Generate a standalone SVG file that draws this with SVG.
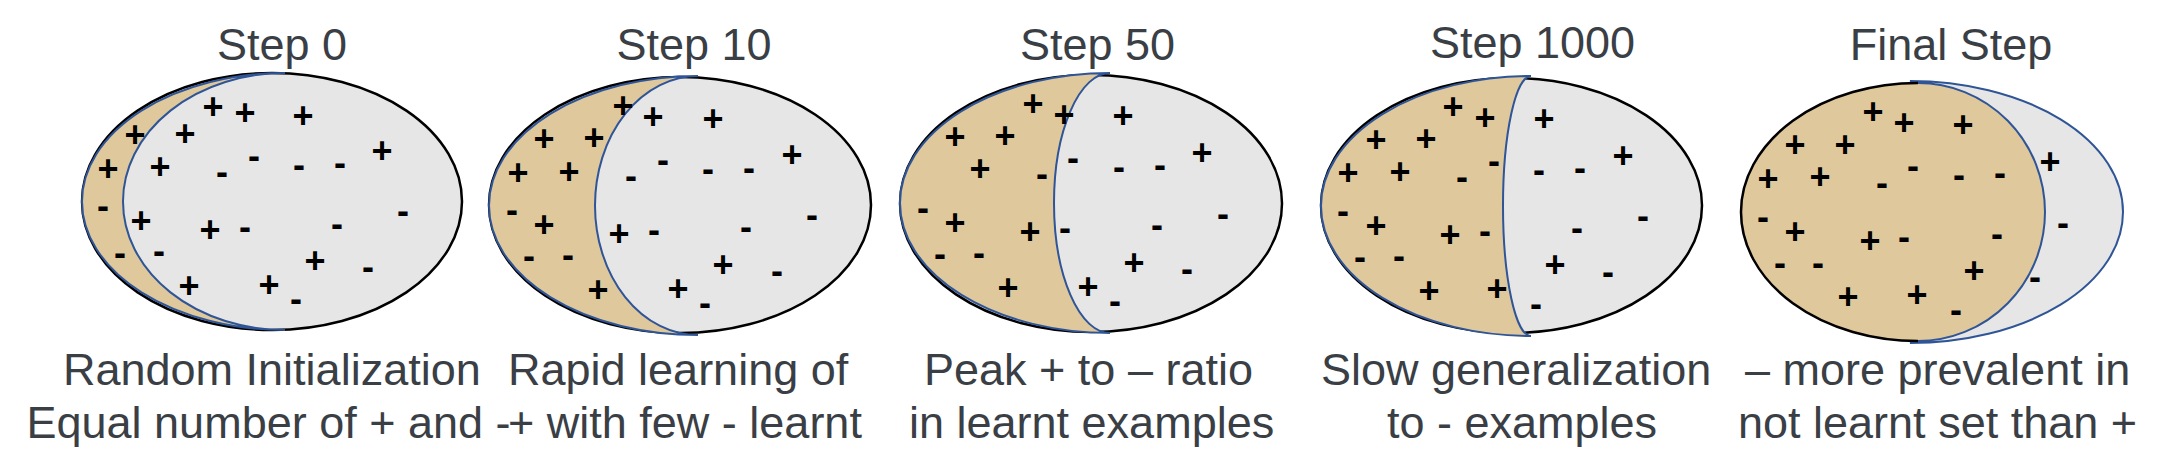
<svg xmlns="http://www.w3.org/2000/svg" width="2177" height="474" viewBox="0 0 2177 474">
<style>
.t{font-family:"Liberation Sans",Arial,sans-serif;font-size:45px;fill:#3a3e45}
.ti{text-anchor:middle}
.p,.m{font-family:"Liberation Sans",Arial,sans-serif;font-weight:bold;font-size:36px;fill:#000;text-anchor:middle}
.all{fill:#e6e6e6;stroke:#000;stroke-width:2.5}
.lr{fill:#dfc89c;stroke:#2f5597;stroke-width:2}
.nl{fill:#e6e6e6;stroke:#2f5597;stroke-width:2}
.tan{fill:#dfc89c;stroke:none}
.blk{fill:none;stroke:#000;stroke-width:2.5}
</style>
<rect width="2177" height="474" fill="#fff"/>

<g id="step0">
<text class="t ti" x="282" y="60">Step 0</text>
<ellipse class="all" cx="272" cy="201.5" rx="190" ry="128.5"/>
<path class="lr" d="M285,73 A203,128.5 0 0 0 285,330 A162,128.5 0 0 1 285,73 Z"/>
<g transform="translate(0,12.4)">
<text class="p" x="213" y="107">+</text><text class="p" x="245" y="113">+</text><text class="p" x="303" y="116">+</text>
<text class="p" x="135" y="135">+</text><text class="p" x="185" y="134">+</text><text class="p" x="108" y="169">+</text>
<text class="p" x="160" y="167">+</text><text class="p" x="382" y="151">+</text><text class="p" x="141" y="221">+</text>
<text class="p" x="210" y="230">+</text><text class="p" x="315" y="261">+</text><text class="p" x="189" y="286">+</text>
<text class="p" x="269" y="285">+</text>
</g>
<g transform="translate(0,9.4)">
<text class="m" x="254" y="159">-</text><text class="m" x="222" y="175">-</text><text class="m" x="299" y="168">-</text>
<text class="m" x="340" y="166">-</text><text class="m" x="103" y="209">-</text><text class="m" x="403" y="214">-</text>
<text class="m" x="245" y="230">-</text><text class="m" x="337" y="227">-</text><text class="m" x="120" y="256">-</text>
<text class="m" x="159" y="254">-</text><text class="m" x="368" y="270">-</text><text class="m" x="296" y="302">-</text>
</g>
<text class="t" x="63" y="385">Random Initialization</text>
<text class="t" x="26.5" y="438">Equal number of + and -</text>
</g>

<g id="step10">
<text class="t ti" x="694" y="60">Step 10</text>
<ellipse class="all" cx="680" cy="205" rx="191" ry="128"/>
<path class="lr" d="M698,76 A209,129.5 0 0 0 698,335 A103,129.5 0 0 1 698,76 Z"/>
<g transform="translate(0,12.4)">
<text class="p" x="623" y="106">+</text><text class="p" x="653" y="117">+</text><text class="p" x="713" y="119">+</text>
<text class="p" x="544" y="139">+</text><text class="p" x="594" y="138">+</text><text class="p" x="518" y="173">+</text>
<text class="p" x="569" y="172">+</text><text class="p" x="792" y="155">+</text><text class="p" x="544" y="225">+</text>
<text class="p" x="619" y="234">+</text><text class="p" x="723" y="265">+</text><text class="p" x="598" y="290">+</text>
<text class="p" x="678" y="289">+</text>
</g>
<g transform="translate(0,9.4)">
<text class="m" x="663" y="163">-</text><text class="m" x="631" y="179">-</text><text class="m" x="708" y="172">-</text>
<text class="m" x="749" y="171">-</text><text class="m" x="512" y="213">-</text><text class="m" x="812" y="218">-</text>
<text class="m" x="654" y="233">-</text><text class="m" x="746" y="230">-</text><text class="m" x="529" y="259">-</text>
<text class="m" x="568" y="258">-</text><text class="m" x="777" y="274">-</text><text class="m" x="705" y="306">-</text>
</g>
<text class="t" x="508" y="385">Rapid learning of</text>
<text class="t" x="508" y="438">+ with few - learnt</text>
</g>

<g id="step50">
<text class="t ti" x="1097.5" y="60">Step 50</text>
<ellipse class="all" cx="1091" cy="203.5" rx="191" ry="128.5"/>
<path class="lr" d="M1110,73 A210,130 0 0 0 1110,333 A56,130 0 0 1 1110,73 Z"/>
<g transform="translate(0,12.4)">
<text class="p" x="1033" y="104">+</text><text class="p" x="1064" y="115">+</text><text class="p" x="1123" y="116">+</text>
<text class="p" x="955" y="137">+</text><text class="p" x="1005" y="136">+</text><text class="p" x="980" y="169">+</text>
<text class="p" x="1202" y="153">+</text><text class="p" x="955" y="223">+</text><text class="p" x="1030" y="232">+</text>
<text class="p" x="1134" y="263">+</text><text class="p" x="1008" y="288">+</text><text class="p" x="1088" y="287">+</text>
</g>
<g transform="translate(0,9.4)">
<text class="m" x="1073" y="161">-</text><text class="m" x="1042" y="177">-</text><text class="m" x="1119" y="170">-</text>
<text class="m" x="1160" y="168">-</text><text class="m" x="923" y="211">-</text><text class="m" x="1223" y="217">-</text>
<text class="m" x="1065" y="231">-</text><text class="m" x="1157" y="228">-</text><text class="m" x="940" y="257">-</text>
<text class="m" x="979" y="256">-</text><text class="m" x="1187" y="272">-</text><text class="m" x="1115" y="304">-</text>
</g>
<text class="t" x="924" y="385">Peak + to – ratio</text>
<text class="t" x="909" y="438">in learnt examples</text>
</g>

<g id="step1000">
<text class="t ti" x="1532.5" y="58">Step 1000</text>
<ellipse class="all" cx="1511.5" cy="205.5" rx="190.5" ry="127.5"/>
<path class="lr" d="M1531,76 A210,130 0 0 0 1531,336 A28,130 0 0 1 1531,76 Z"/>
<g transform="translate(0,12.4)">
<text class="p" x="1453" y="107">+</text><text class="p" x="1485" y="118">+</text><text class="p" x="1544" y="119">+</text>
<text class="p" x="1376" y="140">+</text><text class="p" x="1426" y="139">+</text><text class="p" x="1348" y="173">+</text>
<text class="p" x="1400" y="172">+</text><text class="p" x="1623" y="156">+</text><text class="p" x="1376" y="226">+</text>
<text class="p" x="1450" y="235">+</text><text class="p" x="1555" y="265">+</text><text class="p" x="1429" y="291">+</text>
<text class="p" x="1497" y="289">+</text>
</g>
<g transform="translate(0,9.4)">
<text class="m" x="1494" y="164">-</text><text class="m" x="1462" y="180">-</text><text class="m" x="1539" y="173">-</text>
<text class="m" x="1580" y="171">-</text><text class="m" x="1343" y="214">-</text><text class="m" x="1643" y="219">-</text>
<text class="m" x="1485" y="234">-</text><text class="m" x="1577" y="231">-</text><text class="m" x="1360" y="260">-</text>
<text class="m" x="1399" y="259">-</text><text class="m" x="1608" y="275">-</text><text class="m" x="1536" y="307">-</text>
</g>
<text class="t" x="1321" y="385">Slow generalization</text>
<text class="t" x="1387" y="438">to - examples</text>
</g>

<g id="final">
<text class="t ti" x="1951" y="60">Final Step</text>
<path class="tan" d="M1918,83 A177,129 0 0 0 1918,341 A127,129 0 0 0 1918,83 Z"/>
<path class="nl" d="M1910,81 A213,131 0 0 1 1910,343 L1918,341 A127,129 0 0 0 1918,83 Z"/>
<path class="blk" d="M1918,83 A177,129 0 0 0 1918,341"/>
<g transform="translate(0,12.4)">
<text class="p" x="1873" y="112">+</text><text class="p" x="1904" y="123">+</text><text class="p" x="1963" y="125">+</text>
<text class="p" x="1795" y="145">+</text><text class="p" x="1845" y="145">+</text><text class="p" x="1768" y="179">+</text>
<text class="p" x="1820" y="177">+</text><text class="p" x="2050" y="162">+</text><text class="p" x="1795" y="232">+</text>
<text class="p" x="1870" y="241">+</text><text class="p" x="1974" y="271">+</text><text class="p" x="1848" y="297">+</text>
<text class="p" x="1917" y="295">+</text>
</g>
<g transform="translate(0,9.4)">
<text class="m" x="1913" y="169">-</text><text class="m" x="1882" y="186">-</text><text class="m" x="1959" y="178">-</text>
<text class="m" x="2000" y="176">-</text><text class="m" x="1763" y="220">-</text><text class="m" x="2063" y="226">-</text>
<text class="m" x="1904" y="240">-</text><text class="m" x="1997" y="237">-</text><text class="m" x="1780" y="266">-</text>
<text class="m" x="1818" y="266">-</text><text class="m" x="2035" y="280">-</text><text class="m" x="1956" y="313">-</text>
</g>
<text class="t" x="1745" y="385">– more prevalent in</text>
<text class="t" x="1738" y="438">not learnt set than +</text>
</g>
</svg>
